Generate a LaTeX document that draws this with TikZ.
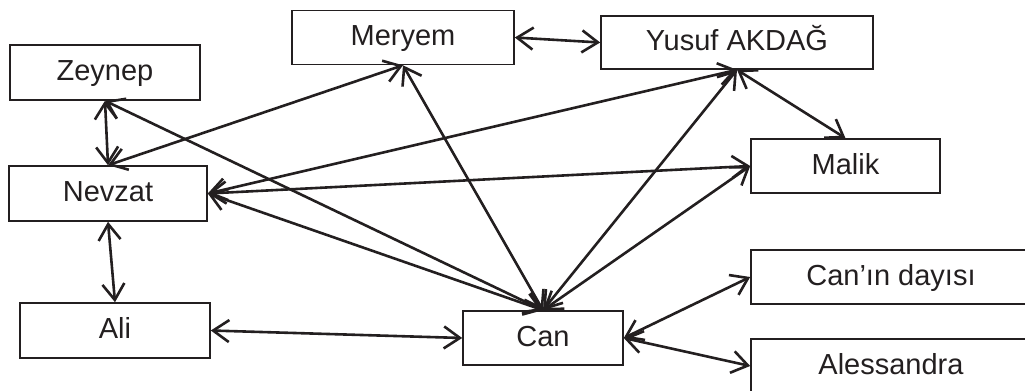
\documentclass[tikz,border=0pt]{standalone}
\usepackage{fontspec}
\setmainfont{Liberation Sans}
\usetikzlibrary{arrows.meta}
\definecolor{ink}{HTML}{231F20}

\begin{document}
\begin{tikzpicture}[x=0.5pt,y=-0.5pt,
  person/.style={draw=ink, line width=0.8pt, inner sep=0pt,
    text height=0.8em, text depth=0pt,
    font=\fontsize{14.5}{16}\selectfont, text=ink},
  link/.style={draw=ink, line width=1.3pt, {Straight Barb[length=8pt,width=11pt]}-{Straight Barb[length=8pt,width=11pt]}}]

  \useasboundingbox (0,0) rectangle (1025,391);
  \clip (0,0) rectangle (1025,391);

  % people
  \node[person, minimum width=95pt, minimum height=27.5pt] at (105,72.5) (zeynep) {Zeynep};
  \node[person, minimum width=111pt, minimum height=27pt] at (403,37.5) (meryem) {Meryem};
  \node[person, minimum width=99pt, minimum height=27.5pt] at (108,193.5) (nevzat) {Nevzat};
  \node[person, minimum width=136pt, minimum height=26.5pt] at (737,42.5) (yusuf) {Yusuf AKDAĞ};
  \node[person, minimum width=94.5pt, minimum height=27pt] at (845.5,166) (malik) {Malik};
  \node[person, minimum width=95pt, minimum height=27.5pt] at (115,330.5) (ali) {Ali};
  \node[person, minimum width=80pt, minimum height=27pt] at (543,338) (can) {Can};
  \node[person, minimum width=140pt, minimum height=27pt] at (891,277) (dayi) {Can’ın dayısı};
  \node[person, minimum width=140pt, minimum height=27pt] at (891,366) (alessandra) {Alessandra};

  % links
  \draw[link] (zeynep.south) -- (nevzat.north);
  \draw[link] (zeynep.south) -- (can.north);
  \draw[link] (nevzat.north) -- (meryem.south);
  \draw[link] (meryem.south) -- (can.north);
  \draw[link] (meryem.east) -- (yusuf.west);
  \draw[link] (nevzat.east) -- (yusuf.south);
  \draw[link] (nevzat.east) -- (malik.west);
  \draw[link] (nevzat.east) -- (can.north);
  \draw[link] (yusuf.south) -- (malik.north);
  \draw[link] (yusuf.south) -- (can.north);
  \draw[link] (malik.west) -- (can.north);
  \draw[link] (nevzat.south) -- (ali.north);
  \draw[link] (ali.east) -- (can.west);
  \draw[link] (can.east) -- (dayi.west);
  \draw[link] (can.east) -- (alessandra.west);

\end{tikzpicture}
\end{document}
